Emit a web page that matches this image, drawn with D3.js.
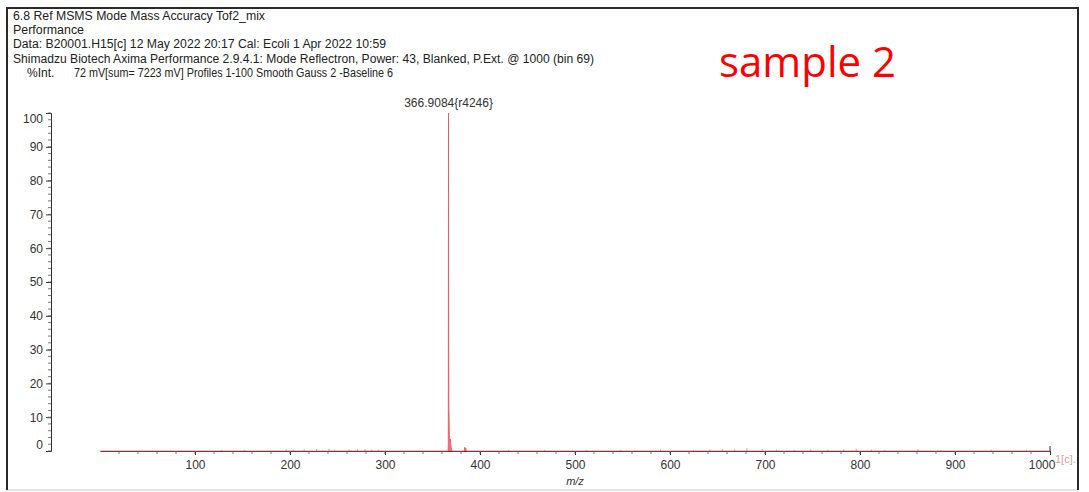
<!DOCTYPE html>
<meta charset="utf-8">
<style>
    body { margin: 0; background: #fff; }
    svg text { font-family: "Liberation Sans", Arial, sans-serif; }
</style>
<body>
<script src="https://cdn.jsdelivr.net/npm/d3@7"></script>
<script>

// header text lines of the instrument report
var headerLines = [
    "6.8 Ref MSMS Mode Mass Accuracy Tof2_mix",
    "Performance",
    "Data: B20001.H15[c] 12 May 2022 20:17 Cal: Ecoli 1 Apr 2022 10:59",
    "Shimadzu Biotech Axima Performance 2.9.4.1: Mode Reflectron, Power: 43, Blanked, P.Ext. @ 1000 (bin 69)"
];
var headerWidths = [252, 71, 373, 581];
var intLabel = "%Int.";
var intInfo = "72 mV[sum= 7223 mV] Profiles 1-100 Smooth Gauss 2 -Baseline 6";
var sampleLabel = "sample 2";
var peakLabel = "366.9084{r4246}";
var peakLabelMz = 366.9084;
var seriesTag = "1[c].";
var xTitle = "m/z";

var yTickValues = [0, 10, 20, 30, 40, 50, 60, 70, 80, 90, 100];
var xTickValues = [100, 200, 300, 400, 500, 600, 700, 800, 900, 1000];

// profile around the main peak (m/z, %Int)
var profileMz  = [0, 366.3, 366.6, 366.85, 366.95, 367.1, 367.25, 367.4, 367.7, 368.0, 368.4, 368.8, 369.2, 369.7, 370.4, 383.4, 383.9, 384.5, 385.1, 385.7, 1000];
var profileInt = [0, 0,     1.5,   100,    50,     28,    13,     12,    6,     4,     3,     3.5,   2,     1,     0,     0,     1.1,   0.7,   0.9,   0,     0];

// small baseline noise spikes (m/z, %Int)
var noiseMz  = [128, 152, 196, 204, 215, 228, 241, 247, 262, 271, 279, 286, 293, 430, 468, 512, 548, 590, 625, 642, 655, 668, 681, 697, 712, 731, 748, 766, 783, 796, 812, 826, 861, 885, 938, 975];
var noiseInt = [0.3, 0.3, 0.5, 0.4, 0.5, 0.6, 0.7, 0.4, 0.5, 0.5, 0.6, 0.4, 0.4, 0.3, 0.3, 0.3, 0.3, 0.4, 0.3, 0.5, 0.6, 0.4, 0.9, 0.5, 0.4, 0.3, 0.4, 0.3, 0.5, 0.7, 0.4, 0.3, 0.6, 0.3, 0.4, 0.3];

var W = 1089, H = 492;

var svg = d3.select("body").append("svg")
    .attr("width", W)
    .attr("height", H);

// frame
svg.append("rect")
    .attr("x", 7).attr("y", 8)
    .attr("width", 1071).attr("height", 482)
    .attr("fill", "#fff")
    .attr("stroke", "#c8c8c8")
    .attr("stroke-width", 1);
svg.append("path")
    .attr("d", "M7,490V8H1078V490")
    .attr("fill", "none")
    .attr("stroke", "#2a2a2a")
    .attr("stroke-width", 2);

var x = d3.scaleLinear()
    .domain([0, 1000])
    .range([100, 1050]);

var y = d3.scaleLinear()
    .domain([0, 100])
    .range([451, 113]);

// header
var lineGap = 14.2;
var header = svg.append("g").attr("fill", "#222").style("font-size", "12px");
header.selectAll("text")
    .data(headerLines)
    .enter()
    .append("text")
    .attr("x", 13)
    .attr("y", function(d, i) { return 20 + i * lineGap; })
    .attr("textLength", function(d, i) { return headerWidths[i]; })
    .attr("lengthAdjust", "spacingAndGlyphs")
    .text(function(d) { return d; });

header.append("text")
    .attr("x", 27).attr("y", 20 + 4 * lineGap)
    .text(intLabel);
header.append("text")
    .attr("x", 74).attr("y", 20 + 4 * lineGap)
    .attr("textLength", 319)
    .attr("lengthAdjust", "spacingAndGlyphs")
    .text(intInfo);

svg.append("text")
    .attr("x", 719).attr("y", 77)
    .attr("fill", "#ff0000")
    .style("font-family", "'Open Sans', 'Noto Sans', sans-serif")
    .style("font-size", "42px")
    .text(sampleLabel);

// y axis
var yAxis = svg.append("g")
    .attr("transform", "translate(51,0)")
    .call(d3.axisLeft(y).tickValues(yTickValues).tickSize(5).tickPadding(3));
yAxis.select(".domain").attr("stroke", "#333");
yAxis.selectAll(".tick line").attr("stroke", "#333");
yAxis.selectAll(".tick text")
    .attr("fill", "#333")
    .style("font-size", "12px")
    .style("font-family", "'Liberation Sans', Arial, sans-serif")
    .attr("dy", function(d) { return d === 0 ? "-0.25em" : (d === 100 ? "0.75em" : "0.32em"); });

svg.append("g")
    .selectAll("line")
    .data(d3.range(0, 101, 2))
    .enter()
    .append("line")
    .attr("x1", 48).attr("x2", 51)
    .attr("y1", function(d) { return y(d); })
    .attr("y2", function(d) { return y(d); })
    .attr("stroke", "#555")
    .attr("stroke-width", 0.8);

// x axis
var xAxis = svg.append("g")
    .attr("transform", "translate(0,451)")
    .call(d3.axisBottom(x).tickValues(xTickValues).tickFormat(d3.format("d"))
        .tickSize(4).tickPadding(5).tickSizeOuter(0));
xAxis.select(".domain").attr("stroke", "#333");
xAxis.selectAll(".tick line").attr("stroke", "#333");
xAxis.selectAll(".tick text")
    .attr("fill", "#333")
    .style("font-size", "12px")
    .style("font-family", "'Liberation Sans', Arial, sans-serif")
    .attr("dx", function(d) { return d === 1000 ? "-0.7em" : 0; });

svg.append("g")
    .selectAll("line")
    .data(d3.range(20, 1000, 20))
    .enter()
    .append("line")
    .attr("x1", function(d) { return x(d); })
    .attr("x2", function(d) { return x(d); })
    .attr("y1", 451).attr("y2", 454)
    .attr("stroke", "#555")
    .attr("stroke-width", 0.8);

svg.append("line")
    .attr("x1", x(1000)).attr("x2", x(1000))
    .attr("y1", 446).attr("y2", 451)
    .attr("stroke", "#333");

svg.append("text")
    .attr("x", x(500)).attr("y", 485)
    .attr("text-anchor", "middle")
    .attr("fill", "#333")
    .style("font-size", "11px")
    .style("font-style", "italic")
    .text(xTitle);

svg.append("text")
    .attr("x", 1055).attr("y", 463)
    .attr("fill", "#e89a9a")
    .style("font-size", "11px")
    .text(seriesTag);

// spectrum
var spectrum = svg.append("g");

spectrum.selectAll("line")
    .data(noiseMz)
    .enter()
    .append("line")
    .attr("x1", function(d) { return x(d); })
    .attr("x2", function(d) { return x(d); })
    .attr("y1", y(0))
    .attr("y2", function(d, i) { return y(noiseInt[i]); })
    .attr("stroke", "#e8505a")
    .attr("stroke-opacity", 0.6)
    .attr("stroke-width", 1);

var line = d3.line()
    .x(function(d) { return x(d); })
    .y(function(d, i) { return y(profileInt[i]); });

spectrum.append("path")
    .datum(profileMz)
    .attr("d", line)
    .attr("fill", "#e8505a")
    .attr("fill-opacity", 0.8)
    .attr("stroke", "#e8505a")
    .attr("stroke-opacity", 0.75)
    .attr("stroke-width", 1);

svg.append("text")
    .attr("x", x(peakLabelMz)).attr("y", 107)
    .attr("text-anchor", "middle")
    .attr("fill", "#333")
    .style("font-size", "12px")
    .text(peakLabel);

</script>
</body>
